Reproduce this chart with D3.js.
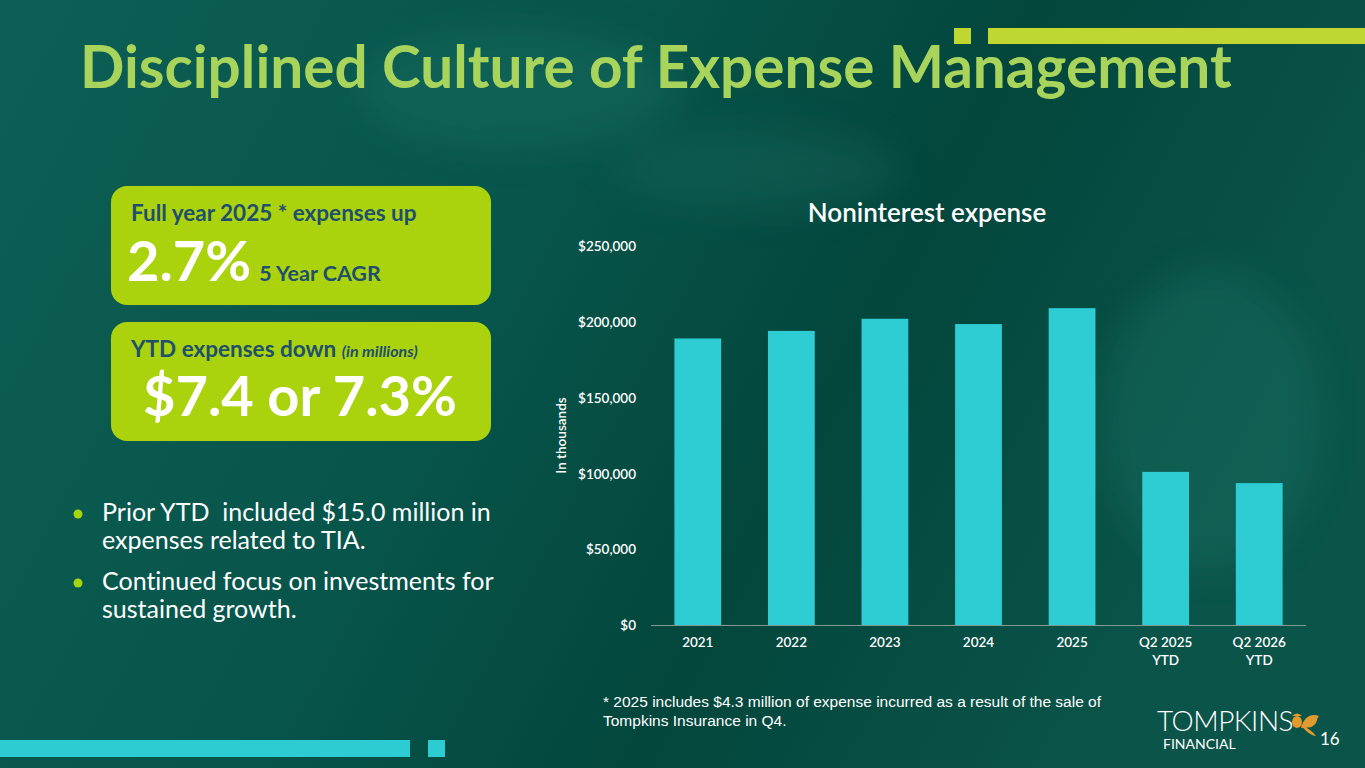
<!DOCTYPE html>
<html>
<head>
<meta charset="utf-8">
<script src="https://cdn.jsdelivr.net/npm/d3@7"></script>
<style>
  html, body { margin: 0; padding: 0; background: #05493f; overflow: hidden; }
  svg { display: block; font-family: Lato, "Open Sans", sans-serif; }
  text { white-space: pre; font-variant-ligatures: none; }
</style>
</head>
<body>
<div id="slide"></div>
<script>
// chart data (in thousands)
const categories = ["2021", "2022", "2023", "2024", "2025", "Q2 2025|YTD", "Q2 2026|YTD"];
const expenses = [189000, 194000, 202000, 198500, 209000, 101000, 93600];
const yTicks = [0, 50000, 100000, 150000, 200000, 250000];

const bullets = [
  ["Prior YTD  included $15.0 million in", "expenses related to TIA."],
  ["Continued focus on investments for", "sustained growth."]
];
const footnote = [
  "* 2025 includes $4.3 million of expense incurred as a result of the sale of",
  "Tompkins Insurance in Q4."
];

const width = 1365,
  height = 768;

const svg = d3.select("#slide")
  .append("svg")
  .attr("width", width)
  .attr("height", height);

// background
const defs = svg.append("defs");
const bg = defs.append("linearGradient")
  .attr("id", "bg")
  .attr("x1", "0").attr("y1", "0")
  .attr("x2", "1").attr("y2", "0.3");
bg.append("stop").attr("offset", "0").attr("stop-color", "#0d5f55");
bg.append("stop").attr("offset", "0.45").attr("stop-color", "#07544a");
bg.append("stop").attr("offset", "0.7").attr("stop-color", "#03463c");
bg.append("stop").attr("offset", "1").attr("stop-color", "#0a5449");
svg.append("rect").attr("width", width).attr("height", height).attr("fill", "url(#bg)");

const blur = defs.append("filter").attr("id", "soft").attr("x", "-50%").attr("y", "-50%")
  .attr("width", "200%").attr("height", "200%");
blur.append("feGaussianBlur").attr("stdDeviation", 18);
const blobs = svg.append("g").attr("filter", "url(#soft)").attr("opacity", 0.35);
blobs.append("ellipse").attr("cx", 520).attr("cy", 90).attr("rx", 160).attr("ry", 60).attr("fill", "#1c7468");
blobs.append("ellipse").attr("cx", 1210).attr("cy", 420).attr("rx", 110).attr("ry", 150).attr("fill", "#1c7468");
blobs.append("ellipse").attr("cx", 760).attr("cy", 170).attr("rx", 140).attr("ry", 40).attr("fill", "#1a6b60");

// decorative bars
svg.append("rect").attr("x", 954).attr("y", 28).attr("width", 17).attr("height", 16).attr("fill", "#bfd730");
svg.append("rect").attr("x", 988).attr("y", 28).attr("width", 377).attr("height", 16).attr("fill", "#bfd730");
svg.append("rect").attr("x", 0).attr("y", 740).attr("width", 410).attr("height", 17).attr("fill", "#2dcbd2");
svg.append("rect").attr("x", 428).attr("y", 740).attr("width", 17).attr("height", 17).attr("fill", "#2dcbd2");

// title
svg.append("text")
  .attr("x", 80).attr("y", 88)
  .attr("fill", "#a8d45c")
  .attr("font-size", 58.5)
  .attr("font-weight", 700)
  .text("Disciplined Culture of Expense Management");

// highlight boxes
const box = svg.append("g");
box.append("rect").attr("x", 111).attr("y", 186).attr("width", 380).attr("height", 119)
  .attr("rx", 16).attr("fill", "#abd30d");
box.append("rect").attr("x", 111).attr("y", 322).attr("width", 380).attr("height", 119)
  .attr("rx", 16).attr("fill", "#abd30d");

box.append("text").attr("x", 131).attr("y", 221)
  .attr("fill", "#1e4f6c").attr("font-size", 22.5).attr("font-weight", 700)
  .text("Full year 2025 * expenses up");
const cagr = box.append("text").attr("x", 127).attr("y", 281);
cagr.append("tspan").attr("fill", "#ffffff").attr("font-size", 56).attr("font-weight", 700).text("2.7%");
cagr.append("tspan").attr("dx", 8).attr("fill", "#1e4f6c").attr("font-size", 21.5).attr("font-weight", 700).text("5 Year CAGR");

const ytd = box.append("text").attr("x", 131).attr("y", 357).attr("fill", "#1e4f6c");
ytd.append("tspan").attr("font-size", 22.5).attr("font-weight", 700).text("YTD expenses down ");
ytd.append("tspan").attr("font-size", 16).attr("font-weight", 700).attr("font-style", "italic").text("(in millions)");
box.append("text").attr("x", 143).attr("y", 416)
  .attr("fill", "#ffffff").attr("font-size", 56).attr("font-weight", 700)
  .text("$7.4 or 7.3%");

// bullets
const bl = svg.append("g");
bullets.forEach(function (lines, i) {
  const y0 = 521 + i * 69;
  bl.append("circle").attr("cx", 78).attr("cy", y0 - 7).attr("r", 4.5).attr("fill", "#a8d40c");
  lines.forEach(function (line, j) {
    bl.append("text").attr("x", 102).attr("y", y0 + j * 28)
      .attr("fill", "#ffffff").attr("font-size", 25)
      .text(line);
  });
});

// chart
const chart = { left: 651, right: 1306, top: 246, bottom: 625 };

const x = d3.scaleBand()
  .domain(categories)
  .range([chart.left, chart.right])
  .paddingInner(0.5)
  .paddingOuter(0.25);

const y = d3.scaleLinear()
  .domain([0, 250000])
  .range([chart.bottom, chart.top]);

svg.append("text")
  .attr("x", 927).attr("y", 222)
  .attr("text-anchor", "middle")
  .attr("fill", "#ffffff").attr("font-size", 26).attr("font-weight", 600)
  .text("Noninterest expense");

svg.append("g")
  .selectAll("rect")
  .data(expenses)
  .enter()
  .append("rect")
  .attr("fill", "#2dcdd3")
  .attr("x", function (d, i) { return x(categories[i]); })
  .attr("width", x.bandwidth())
  .attr("y", function (d) { return y(d); })
  .attr("height", function (d) { return y(0) - y(d); });

const fmt = d3.format("$,");
const yAxis = svg.append("g")
  .attr("transform", "translate(" + (chart.left - 15) + ",0)")
  .call(d3.axisLeft(y).tickValues(yTicks).tickFormat(fmt).tickSize(0).tickPadding(0));
yAxis.select(".domain").remove();
yAxis.selectAll("text")
  .attr("fill", "#ffffff").attr("font-size", 13.5).attr("font-weight", 600)
  .attr("font-family", "Lato, sans-serif")
  .attr("dy", "0.35em");

const xAxis = svg.append("g")
  .attr("transform", "translate(0," + chart.bottom + ")")
  .call(d3.axisBottom(x).tickSize(0).tickPadding(0).tickFormat(""));
xAxis.select(".domain").attr("stroke", "#7a9a93").attr("stroke-width", 1.2)
  .attr("d", "M" + chart.left + ",0.5H" + chart.right);
xAxis.selectAll(".tick text").each(function (d) {
  const t = d3.select(this)
    .attr("fill", "#ffffff").attr("font-size", 13.5).attr("font-weight", 600)
    .attr("font-family", "Lato, sans-serif")
    .attr("y", 0).attr("dy", 0);
  d.split("|").forEach(function (part, k) {
    t.append("tspan").attr("x", 0).attr("y", 22 + k * 18).text(part);
  });
});

svg.append("text")
  .attr("transform", "translate(566," + ((chart.top + chart.bottom) / 2) + ") rotate(-90)")
  .attr("text-anchor", "middle")
  .attr("fill", "#ffffff").attr("font-size", 13.5).attr("font-weight", 600)
  .text("In thousands");

// footnote
footnote.forEach(function (line, i) {
  svg.append("text").attr("x", 603).attr("y", 707 + i * 19)
    .attr("fill", "#ffffff").attr("font-size", 15.5)
    .attr("font-family", "'Liberation Sans', Arial, sans-serif")
    .text(line);
});

// logo
const logo = svg.append("g");
logo.append("text").attr("x", 1157).attr("y", 731)
  .attr("fill", "#ffffff").attr("font-size", 28).attr("font-weight", 300)
  .attr("letter-spacing", -0.5)
  .text("TOMPKINS");
logo.append("text").attr("x", 1163).attr("y", 749)
  .attr("fill", "#ffffff").attr("font-size", 14)
  .text("FINANCIAL");
const leaf = logo.append("g").attr("fill", "#e39a2d");
leaf.append("ellipse").attr("cx", 1297).attr("cy", 722).attr("rx", 5).attr("ry", 6);
leaf.append("path").attr("d", "M1292,716 Q1297,711 1302,716 Z");
leaf.append("path").attr("d", "M1301,728 C1304,716 1312,713 1319,716 C1316,719 1318,722 1314,725 C1311,729 1306,727 1301,728 Z");
leaf.append("path").attr("d", "M1300,724 C1306,732 1312,736 1316,736 C1312,731 1308,728 1303,726 Z");
logo.append("text").attr("x", 1320).attr("y", 745)
  .attr("fill", "#ffffff").attr("font-size", 17)
  .text("16");
</script>
</body>
</html>
